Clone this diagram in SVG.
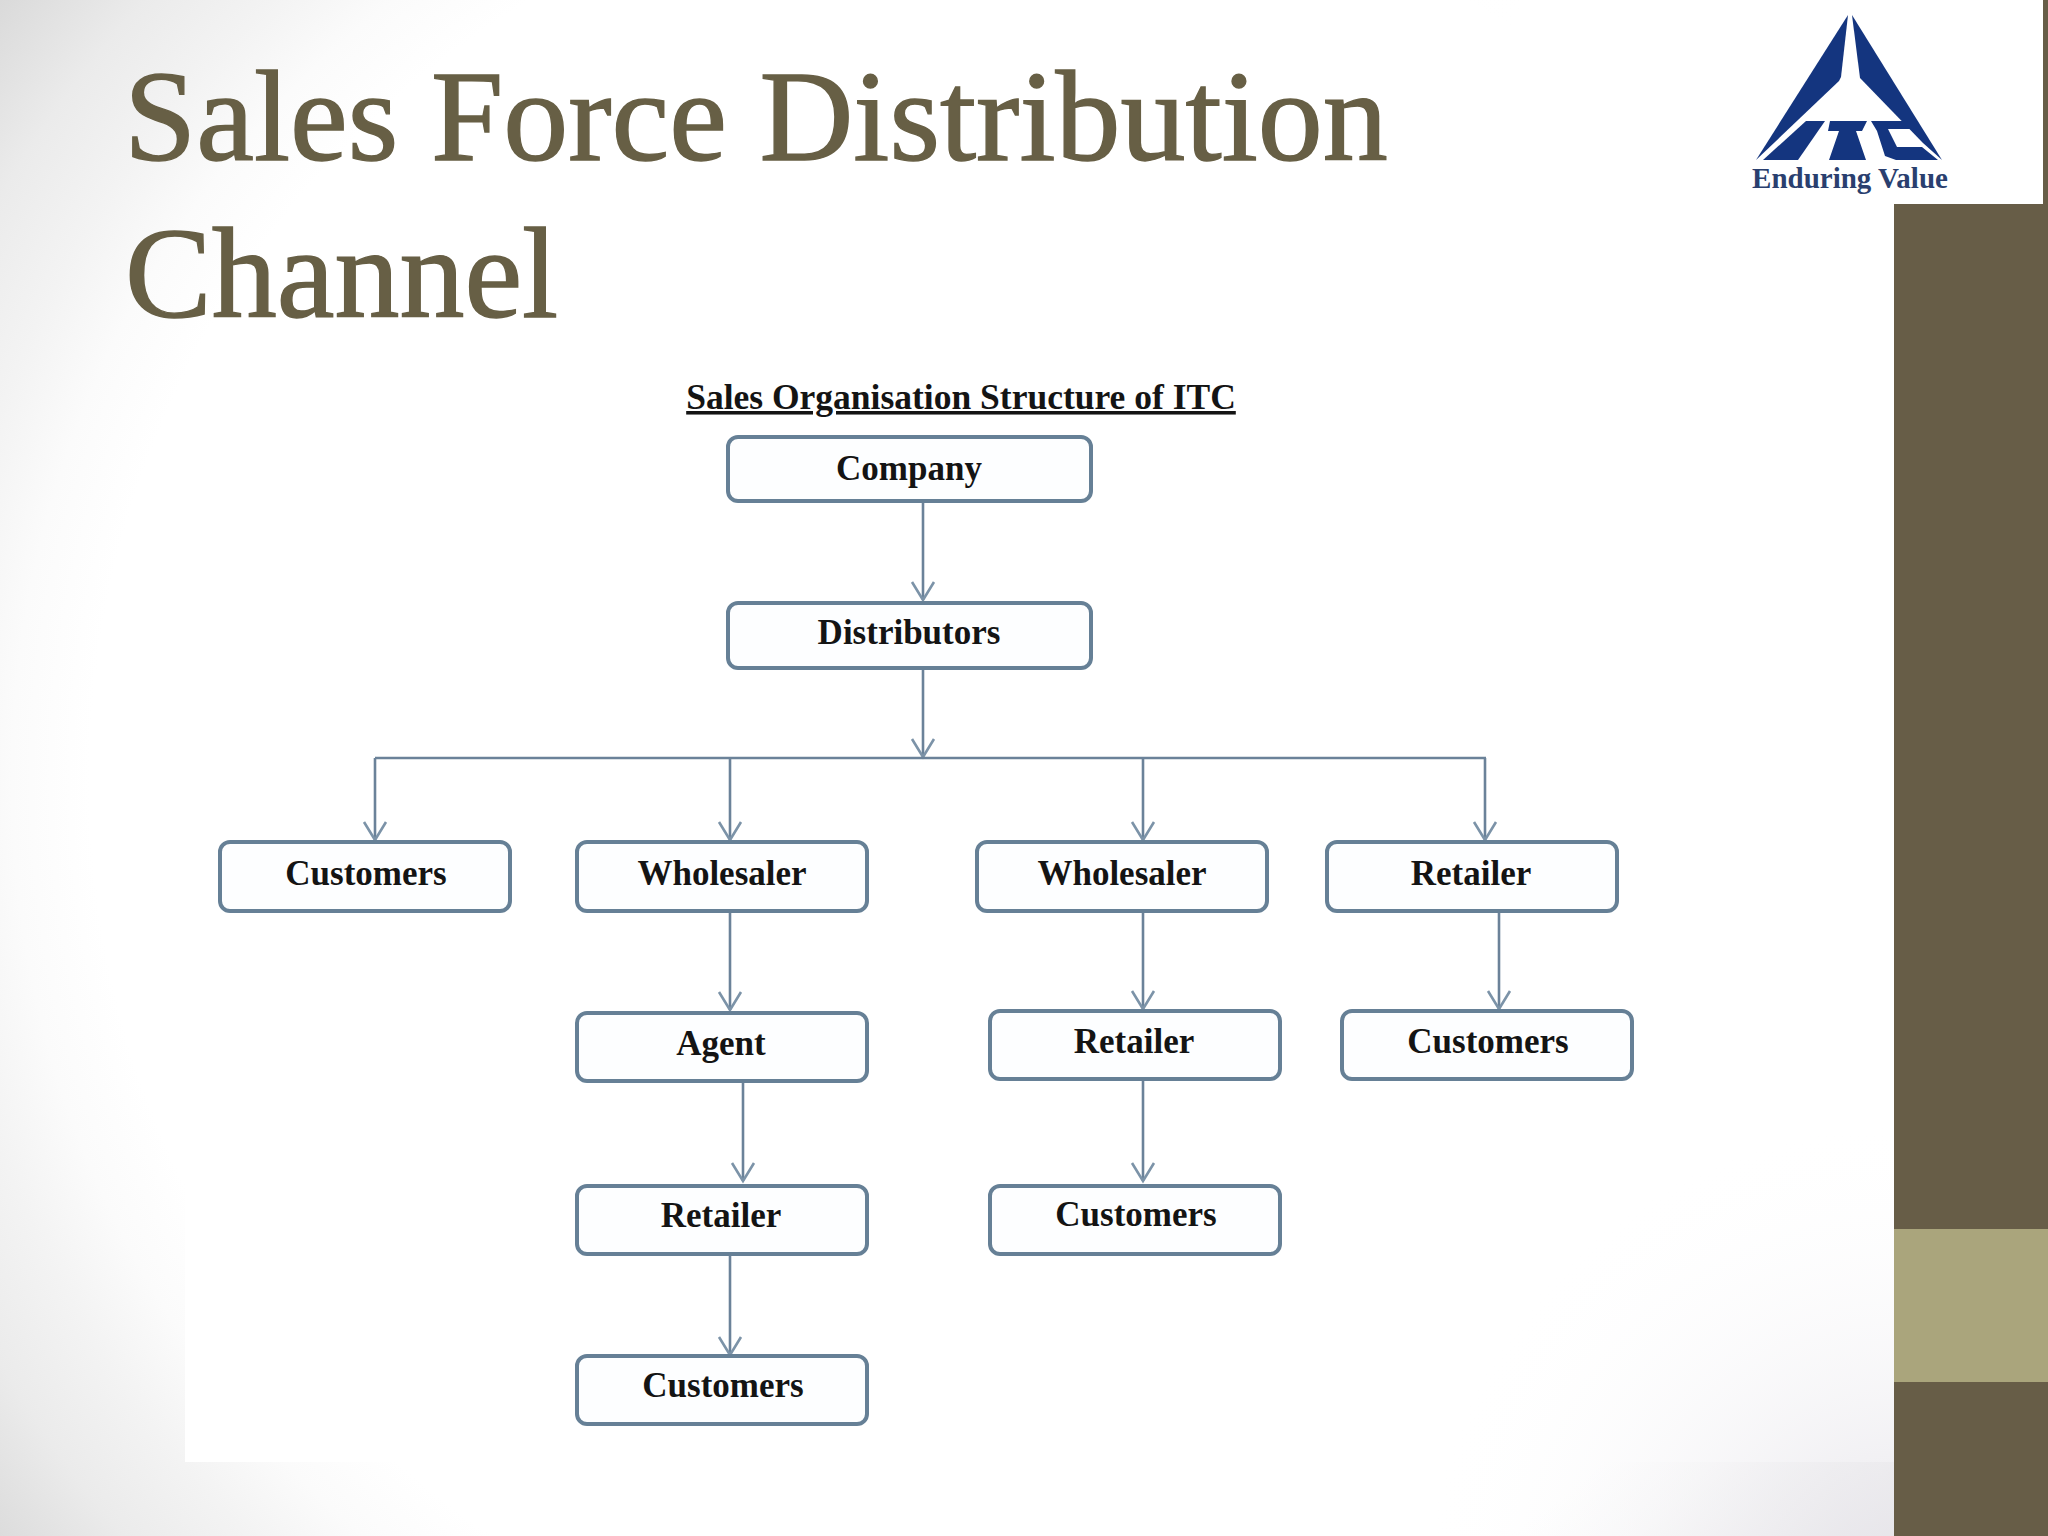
<svg xmlns="http://www.w3.org/2000/svg" width="2048" height="1536" viewBox="0 0 2048 1536">
<defs>
<radialGradient id="bg" gradientUnits="userSpaceOnUse" cx="1000" cy="780" r="1300">
<stop offset="0.70" stop-color="#ffffff"/>
<stop offset="0.76" stop-color="#fbfbfb"/>
<stop offset="0.82" stop-color="#f3f3f3"/>
<stop offset="0.89" stop-color="#ebebeb"/>
<stop offset="0.98" stop-color="#d9d9d9"/>
</radialGradient>
<radialGradient id="bgbr" gradientUnits="userSpaceOnUse" cx="1900" cy="1600" r="480">
<stop offset="0" stop-color="#e4e2e8" stop-opacity="1"/>
<stop offset="1" stop-color="#ffffff" stop-opacity="0"/>
</radialGradient>
<radialGradient id="bgtr" gradientUnits="userSpaceOnUse" cx="1850" cy="100" r="620">
<stop offset="0.55" stop-color="#ffffff" stop-opacity="1"/>
<stop offset="1" stop-color="#ffffff" stop-opacity="0"/>
</radialGradient>
<marker id="arrow" markerUnits="userSpaceOnUse" markerWidth="30" markerHeight="26" refX="14" refY="24" orient="0" overflow="visible">
<path d="M3 6 L14 24 L25 6" fill="none" stroke="#7c93a8" stroke-width="2.6"/>
</marker>
</defs>
<style>
.box{fill:#fdfeff;stroke:#668096;stroke-width:4}
.lab{font-family:"Liberation Serif","Times New Roman",serif;font-weight:700;font-size:35px;fill:#141414;text-anchor:middle}
.ttl{font-family:"Liberation Serif","Times New Roman",serif;font-size:130px;fill:#675f45;stroke:#675f45;stroke-width:1.4}
.con{fill:none;stroke:#6b8299;stroke-width:2.6}
.arr{marker-end:url(#arrow)}
.logo{fill:#14357f}
</style>
<rect width="2048" height="1536" fill="url(#bg)"/>
<rect width="2048" height="1536" fill="url(#bgtr)"/>
<rect width="2048" height="1536" fill="url(#bgbr)"/>
<rect x="185" y="365" width="1709" height="1097" fill="#ffffff"/>
<rect x="1400" y="1100" width="494" height="362" fill="url(#bgbr)"/>
<rect x="1894" y="0" width="154" height="1536" fill="#675d47"/>
<rect x="1894" y="1229" width="154" height="153" fill="#aaa57c"/>
<rect x="1700" y="0" width="343" height="204" fill="#ffffff"/>
<g id="logo">
<polygon class="logo" points="1848,15 1841,77 1839,81 1756,160"/>
<polygon class="logo" points="1852,15 1860,78 1923,143 1942,160"/>
<polygon class="logo" points="1806,121 1825,121 1798,160 1763,160"/>
<polygon class="logo" points="1830,121 1867,121 1862,131 1856,131 1866,160 1829,160 1839,131 1828,131"/>
<polygon class="logo" points="1871,121 1907,121 1914,129 1888,129 1897,147 1922,147 1938,160 1896,160 1885,156 1877,131"/>
<text x="1850" y="188" font-family="Liberation Serif, serif" font-weight="700" font-size="29" fill="#2a3f6f" text-anchor="middle">Enduring Value</text>
</g>
<text class="ttl" x="124" y="160">Sales Force Distribution</text>
<text class="ttl" x="125" y="317">Channel</text>
<text x="961" y="409" font-family="Liberation Serif, serif" font-weight="700" font-size="35.5" fill="#141414" text-anchor="middle" text-decoration="underline">Sales Organisation Structure of ITC</text>
<g id="connectors">
<path class="con arr" d="M923 502V600"/>
<path class="con arr" d="M923 668V757"/>
<path class="con" d="M375 758H1486"/>
<path class="con arr" d="M375 758V840"/>
<path class="con arr" d="M730 758V840"/>
<path class="con arr" d="M1143 758V840"/>
<path class="con arr" d="M1485 758V840"/>
<path class="con arr" d="M730 912V1010"/>
<path class="con arr" d="M743 1083V1181"/>
<path class="con arr" d="M730 1255V1355"/>
<path class="con arr" d="M1143 912V1009"/>
<path class="con arr" d="M1143 1080V1181"/>
<path class="con arr" d="M1499 912V1009"/>
</g>
<g id="company"><rect class="box" x="728" y="437" width="363" height="64" rx="10"/><text class="lab" x="909" y="480">Company</text></g>
<g id="distributors"><rect class="box" x="728" y="603" width="363" height="65" rx="10"/><text class="lab" x="909" y="644">Distributors</text></g>
<g id="customers-direct"><rect class="box" x="220" y="842" width="290" height="69" rx="10"/><text class="lab" x="366" y="885">Customers</text></g>
<g id="wholesaler-1"><rect class="box" x="577" y="842" width="290" height="69" rx="10"/><text class="lab" x="722" y="885">Wholesaler</text></g>
<g id="wholesaler-2"><rect class="box" x="977" y="842" width="290" height="69" rx="10"/><text class="lab" x="1122" y="885">Wholesaler</text></g>
<g id="retailer-direct"><rect class="box" x="1327" y="842" width="290" height="69" rx="10"/><text class="lab" x="1471" y="885">Retailer</text></g>
<g id="agent"><rect class="box" x="577" y="1013" width="290" height="68" rx="10"/><text class="lab" x="721" y="1055">Agent</text></g>
<g id="retailer-2"><rect class="box" x="990" y="1011" width="290" height="68" rx="10"/><text class="lab" x="1134" y="1053">Retailer</text></g>
<g id="customers-3"><rect class="box" x="1342" y="1011" width="290" height="68" rx="10"/><text class="lab" x="1488" y="1053">Customers</text></g>
<g id="retailer-1"><rect class="box" x="577" y="1186" width="290" height="68" rx="10"/><text class="lab" x="721" y="1227">Retailer</text></g>
<g id="customers-2"><rect class="box" x="990" y="1186" width="290" height="68" rx="10"/><text class="lab" x="1136" y="1226">Customers</text></g>
<g id="customers-1"><rect class="box" x="577" y="1356" width="290" height="68" rx="10"/><text class="lab" x="723" y="1397">Customers</text></g>
</svg>
